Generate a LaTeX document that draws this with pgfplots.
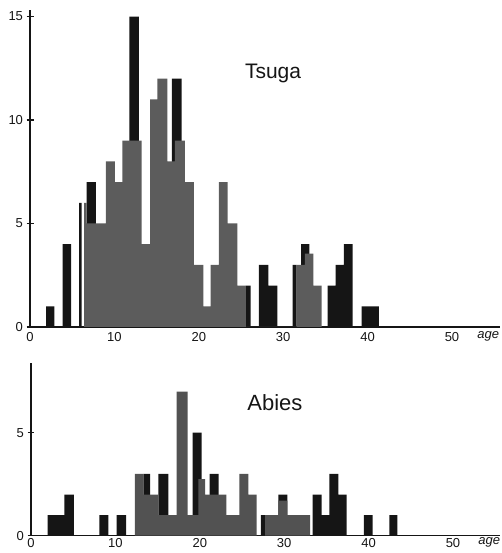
\documentclass[border=0pt]{standalone}
\usepackage{fontspec}
\setmainfont{Liberation Sans}
\usepackage{pgfplots}
\pgfplotsset{compat=1.18}

\definecolor{ink}{HTML}{151515}
\definecolor{screen}{HTML}{5C5C5C}
\definecolor{screenb}{HTML}{525252}

\pgfplotsset{
  scan/.style={
    scale only axis,
    axis x line=bottom, axis y line=left,
    axis line style={-, line width=1.4pt, ink},
    xmin=0, ymin=0,
    xtick={0,10,...,50},
    major x tick style={draw=none},
    tick align=center,
    major tick length=7pt,
    major y tick style={line width=1.2pt, ink},
    tick label style={font=\fontsize{13}{13}\selectfont, text=ink},
    /pgf/number format/assume math mode=true,
    clip=false,
  },
  inkbars/.style={ybar interval, fill=ink, draw=none},
  screenbars/.style={ybar interval, fill=#1, draw=none},
}

\begin{document}
\begin{tikzpicture}
\useasboundingbox (0,0) rectangle (502pt,553pt);

% Tsuga
\begin{axis}[scan, at={(30pt,226pt)}, anchor=south west,
    width=470pt, height=316.7pt, xmax=55.69, ymax=15.3, ytick={0,5,10,15},
    xticklabel style={yshift=2pt}]
\addplot[inkbars] coordinates {
  (1.90,1) (2.88,0) (3.87,4) (4.86,0) (5.81,6) (6.13,0) (6.72,7) (7.82,0)
  (11.77,15) (12.91,0) (16.82,12) (17.97,0) (25.59,2) (26.15,0)
  (27.13,3) (28.23,2) (29.30,0) (31.13,3) (31.60,0) (32.11,4) (33.09,0)
  (35.27,2) (36.22,3) (37.20,4) (38.23,0) (39.30,1) (41.35,0)
};
\addplot[screenbars=screen] coordinates {
  (6.40,6) (6.72,5) (9.00,8) (10.07,7) (10.94,9) (13.23,4) (14.22,11)
  (15.08,12) (16.27,8) (17.18,9) (18.36,7) (19.43,3) (20.53,1) (21.41,3)
  (22.39,7) (23.42,5) (24.56,2) (25.59,0)
  (31.60,3) (32.58,3.55) (33.57,2) (34.56,0)
};
\node[font=\fontsize{21}{21}\selectfont, text=ink, anchor=base] at (axis cs:28.8,12.0) {Tsuga};
\node[font=\fontsize{13}{13}\selectfont\itshape, text=ink, anchor=base west, yshift=-12pt] at (axis cs:52.6,0) {age};
\end{axis}

% Abies
\begin{axis}[scan, at={(31pt,17.3pt)}, anchor=south west,
    width=469pt, height=172.4pt, xmax=55.57, ymax=8.37, ytick={0,5},
    xticklabel style={yshift=4pt}]
\addplot[inkbars] coordinates {
  (1.98,1) (3.95,2) (5.09,0) (8.09,1) (9.16,0) (10.15,1) (11.26,0)
  (13.31,3) (14.10,0) (15.08,3) (16.27,0) (19.16,5) (20.23,0)
  (21.15,3) (22.22,0) (27.25,1) (27.84,0) (29.30,2) (30.37,0)
  (33.38,2) (34.44,1) (35.34,3) (36.41,2) (37.40,0) (39.45,1) (40.49,0)
  (42.45,1) (43.40,0)
};
\addplot[screenbars=screenb] coordinates {
  (12.32,3) (13.31,2) (15.08,1) (17.26,7) (18.57,1) (19.82,2.75) (20.62,2)
  (23.16,1) (24.68,3) (25.75,2) (26.74,0) (27.73,1) (29.30,1.7) (30.37,1)
  (33.06,0)
};
\node[font=\fontsize{22}{22}\selectfont, text=ink, anchor=base] at (axis cs:28.9,6.1) {Abies};
\node[font=\fontsize{13}{13}\selectfont\itshape, text=ink, anchor=base west, yshift=-9pt] at (axis cs:52.6,0) {age};
\end{axis}
\end{tikzpicture}
\end{document}
